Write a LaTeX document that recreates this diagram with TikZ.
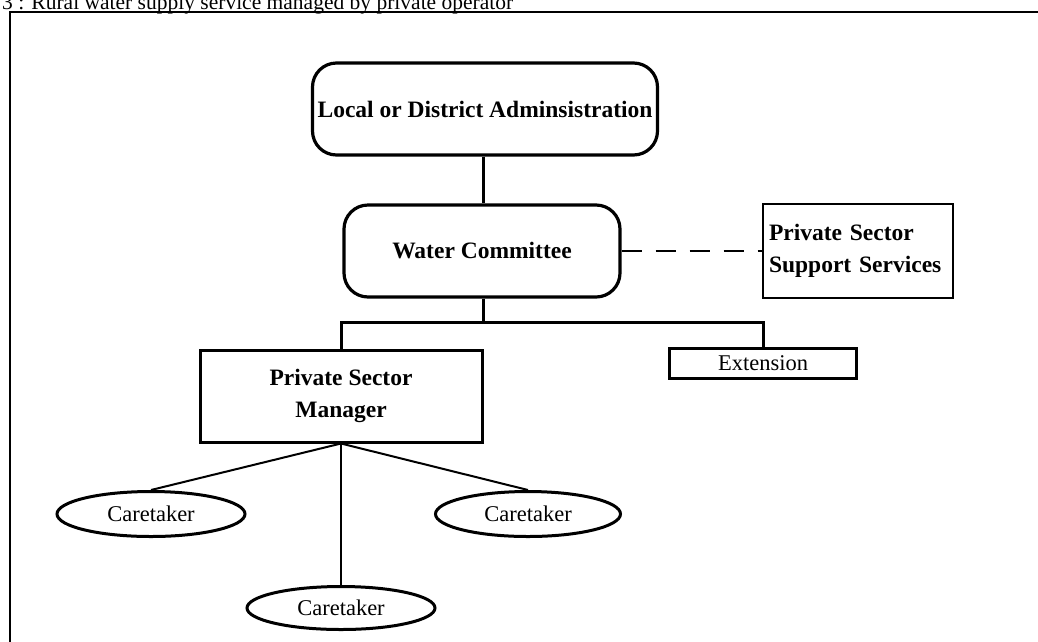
\documentclass[tikz,border=0pt]{standalone}
\usepackage{fontspec}
\setmainfont{Liberation Serif}
\usetikzlibrary{shapes.geometric}
\begin{document}
\begin{tikzpicture}[x=1pt,y=-1pt,
  txt/.style={font=\fontsize{22.5}{30}\selectfont},
  captxt/.style={font=\fontsize{21.5}{28}\selectfont},
  btxt/.style={font=\fontsize{23.5}{32}\selectfont\bfseries},
  rbox/.style={draw,line width=3.2pt,rounded corners=24pt,btxt,inner sep=0pt},
  sqbox/.style={draw,line width=3pt,inner sep=0pt},
  thinbox/.style={draw,line width=2pt,inner sep=0pt},
  oval/.style={draw,ellipse,line width=3pt,txt,inner sep=0pt},
  conn/.style={line width=3pt},
  tconn/.style={line width=2pt},
  dconn/.style={line width=2.2pt,dash pattern=on 20pt off 14pt}]
\useasboundingbox (0,0) rectangle (1038,641);
% page frame
\draw[line width=2.8pt] (10,660) -- (10,12) -- (1060,12);
% cut-off caption
\node[captxt,anchor=base west,inner sep=0pt] (cap) at (2,9) {3 : Rural water supply service managed by private operator};
% nodes
\node[rbox,minimum width=345pt,minimum height=92pt] (lda) at (485,109) {Local or District Adminsistration};
\node[rbox,minimum width=276pt,minimum height=92pt] (wc) at (482,251) {Water Committee};
\node[thinbox,btxt,minimum width=190pt,minimum height=94pt,align=left,text width=178pt] (pss) at (858,251) {Private Sector\\Support Services};
\node[sqbox,btxt,minimum width=282pt,minimum height=92pt,align=center] (psm) at (341,396) {Private Sector\\Manager};
\node[sqbox,txt,minimum width=187pt,minimum height=30pt] (ext) at (763,363) {Extension};
\node[oval,minimum width=188pt,minimum height=45pt] (c1) at (151,514) {Caretaker};
\node[oval,minimum width=185pt,minimum height=45pt] (c2) at (528,514) {Caretaker};
\node[oval,minimum width=188pt,minimum height=43pt] (c3) at (341,608) {Caretaker};
\coordinate (j) at (483,322);
% connectors
\draw[conn] (lda.south -| j) -- (wc.north -| j);
\draw[dconn] (wc.east) -- (pss.west);
\draw[conn] (wc.south -| j) -- (j);
\draw[conn] (psm.north) |- (ext.north |- j) -- (ext.north);
\draw[tconn] (psm.south) -- (c1.north);
\draw[tconn] (psm.south) -- (c2.north);
\draw[tconn] (psm.south) -- (c3.north);
\end{tikzpicture}
\end{document}
